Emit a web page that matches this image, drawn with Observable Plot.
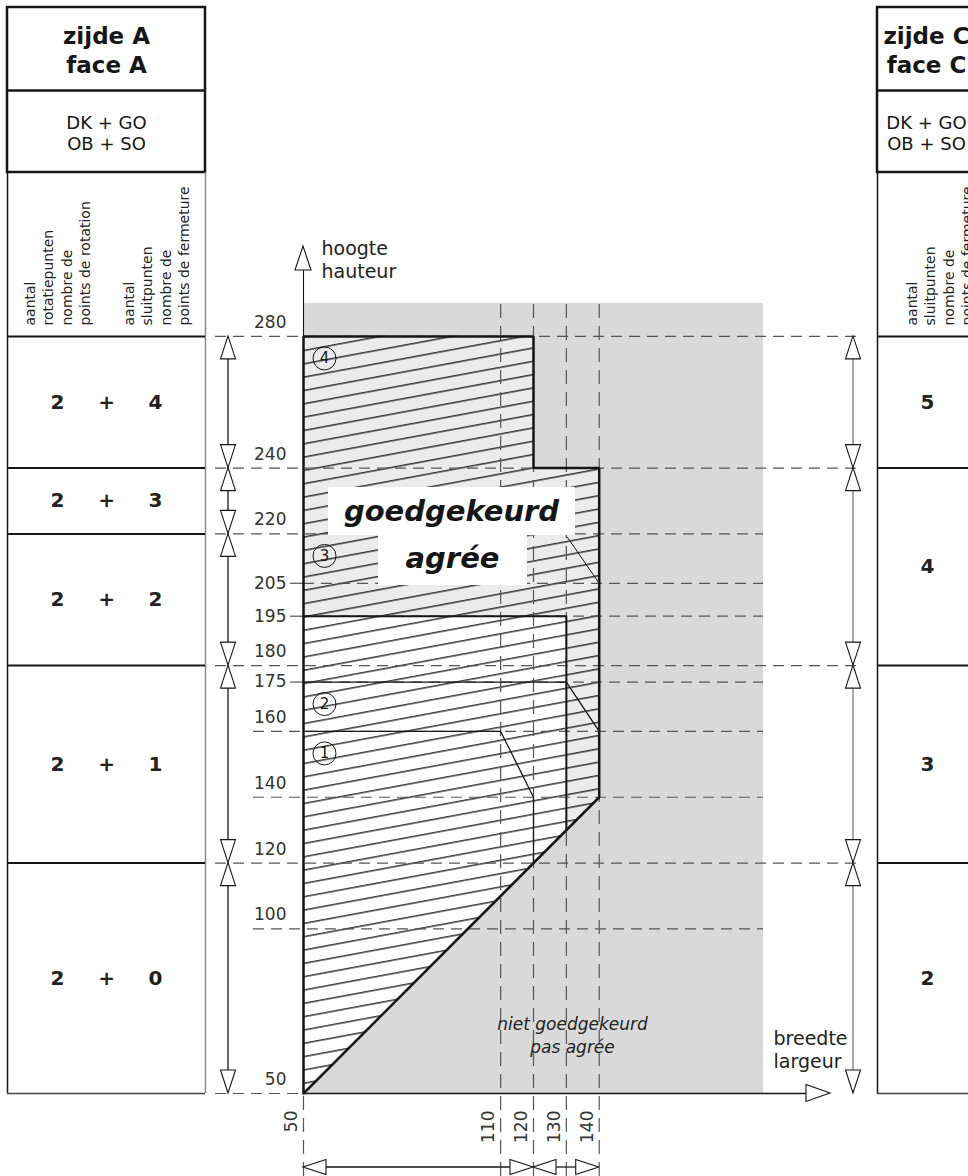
<!DOCTYPE html>
<html><head><meta charset="utf-8">
<script src="https://cdn.jsdelivr.net/npm/d3@7"></script>
<script src="https://cdn.jsdelivr.net/npm/@observablehq/plot@0.6"></script>
<style>
html,body{margin:0;padding:0;background:#fff;overflow:hidden;}
#chart svg{display:block;overflow:hidden;}
</style></head><body><div id="chart"></div>
<script>
// ---------------- data ----------------
const widthTicks = [50, 110, 120, 130, 140];
const heightTicks = [280, 240, 220, 205, 195, 180, 175, 160, 140, 120, 100, 50];
const heightTicksMarked = [205, 195, 175];
const sideAHeights = [280, 240, 220, 180, 120, 50];
const sideARotationPoints = [2, 2, 2, 2, 2];
const sideAClosingPoints = [4, 3, 2, 1, 0];
const sideCHeights = [280, 240, 180, 120, 50];
const sideCClosingPoints = [5, 4, 3, 2];
const widthSpans = [50, 120, 140];
const approvedOutline = [[50,50],[140,140],[140,240],[120,240],[120,280],[50,280]];
const upperZone = [[50,195],[50,280],[120,280],[120,240],[140,240],[140,140],[130,130],[130,195]];
const zone2Edge = [[50,195],[130,195],[130,130]];
const zone2Top = [[50,175],[130,175],[140,160]];
const zone1Edge = [[50,160],[110,160],[120,140],[120,120]];
const labelLeader = [[130.3,219],[140,205]];
const zoneNumbers = ["1","2","3","4"];
const zoneTops = [160,175,220,280];
const widthRange = [50,190];
const heightRange = [50,290];
const sideALabels = ["zijde A\nface A", "DK + GO\nOB + SO"];
const sideCLabels = ["zijde C\nface C", "DK + GO\nOB + SO"];
const rotationHeader = "aantal\nrotatiepunten\nnombre de\npoints de rotation";
const closingHeader = "aantal\nsluitpunten\nnombre de\npoints de fermeture";

// ---------------- layout ----------------
const W = 968, H = 1176, ML = 303, MR = 205, MT = 303, MB = 83;
const KX = (W - ML - MR) / (widthRange[1] - widthRange[0]);
const KY = (H - MT - MB) / (heightRange[1] - heightRange[0]);
const PX = p => widthRange[0] + (p - ML) / KX;   // pixel -> data (x)
const PY = p => heightRange[0] + (H - MB - p) / KY; // pixel -> data (y)
const px = d => d[0], py = d => d[1];
const INK = "#161616", DASH = "#555";

const rowsA = sideAClosingPoints.map((c, i) => ({mid: (sideAHeights[i] + sideAHeights[i+1]) / 2, rot: sideARotationPoints[i], close: c}));
const rowsC = sideCClosingPoints.map((c, i) => ({mid: (sideCHeights[i] + sideCHeights[i+1]) / 2, close: c}));

const bothSides = sideAHeights.filter(h => sideCHeights.includes(h) && h !== heightRange[0]);
const dashRows = heightTicks.map(h => {
  let a, b;
  if (h === heightRange[0]) { a = PX(215); b = widthRange[0]; }
  else if (bothSides.includes(h)) { a = PX(215); b = PX(860); }
  else if (sideAHeights.includes(h)) { a = PX(215); b = widthRange[1]; }
  else if (heightTicksMarked.includes(h)) { a = widthRange[0]; b = widthRange[1]; }
  else { a = PX(253); b = widthRange[1]; }
  return {h, a, b};
});

function openHead(g, ax, ay, dir, L = 23, w = 7.5) {
  let pts;
  if (dir === "up") pts = [[ax,ay],[ax-w,ay+L],[ax+w,ay+L]];
  else if (dir === "down") pts = [[ax,ay],[ax-w,ay-L],[ax+w,ay-L]];
  else if (dir === "left") pts = [[ax,ay],[ax+L,ay-w],[ax+L,ay+w]];
  else pts = [[ax,ay],[ax-L,ay-w],[ax-L,ay+w]];
  g.append("path").attr("d", "M" + pts.join("L") + "Z")
    .attr("fill", "white").attr("stroke", INK).attr("stroke-width", 1.1).attr("stroke-linejoin", "miter");
}

const dimensionMark = (bounds, axis, at, lineColor) => (index, scales) => {
  const g = d3.create("svg:g");
  const L = 23;
  for (let i = 0; i + 1 < bounds.length; i++) {
    if (axis === "y") {
      const a = scales.y(bounds[i]), b = scales.y(bounds[i+1]);
      const top = Math.min(a, b), bot = Math.max(a, b);
      g.append("line").attr("x1", at).attr("x2", at).attr("y1", top + L).attr("y2", bot - L)
        .attr("stroke", lineColor).attr("stroke-width", 1.3);
      openHead(g, at, top, "up"); openHead(g, at, bot, "down");
    } else {
      const a = scales.x(bounds[i]), b = scales.x(bounds[i+1]);
      const l = Math.min(a, b), r = Math.max(a, b);
      g.append("line").attr("y1", at).attr("y2", at).attr("x1", l + L).attr("x2", r - L)
        .attr("stroke", lineColor).attr("stroke-width", 1.3);
      openHead(g, l, at, "left"); openHead(g, r, at, "right");
    }
  }
  return g.node();
};

const hatchDefs = () => {
  const g = d3.create("svg:g");
  const p = g.append("defs").append("pattern").attr("id", "hatch")
    .attr("patternUnits", "userSpaceOnUse").attr("width", 80).attr("height", 13.1)
    .attr("patternTransform", "rotate(-10.5)");
  p.append("line").attr("x1", -2).attr("x2", 82).attr("y1", 6.5).attr("y2", 6.5)
    .attr("stroke", "#000").attr("stroke-width", 1.25);
  return g.node();
};

const axisHeads = (index, scales) => {
  const g = d3.create("svg:g");
  openHead(g, scales.x(widthRange[0]), 246, "up", 24, 8);
  openHead(g, 830, scales.y(heightRange[0]), "right", 24, 8.5);
  return g.node();
};

const tableFrame = (x1p, x2p, bounds) => [
  Plot.rect([0], {x1: PX(x1p), x2: PX(x2p), y1: PY(7), y2: PY(172), fill: "none", stroke: INK, strokeWidth: 2.5}),
  Plot.ruleY([PY(90)], {x1: PX(x1p), x2: PX(x2p), stroke: INK, strokeWidth: 2.5}),
  Plot.ruleX([PX(x1p)], {y1: PY(172), y2: heightRange[0], stroke: INK, strokeWidth: 1.5}),
  Plot.ruleX([PX(x2p)], {y1: PY(172), y2: heightRange[0], stroke: "#8a8a8a", strokeWidth: 1.5}),
  Plot.ruleY(bounds.filter(h => h !== heightRange[0]), {x1: PX(x1p), x2: PX(x2p), stroke: INK, strokeWidth: 2}),
  Plot.ruleY([heightRange[0]], {x1: PX(x1p), x2: PX(x2p), stroke: "#444", strokeWidth: 1.5})
];

const plot = Plot.plot({
  width: W, height: H,
  marginLeft: ML, marginRight: MR, marginTop: MT, marginBottom: MB,
  x: {domain: widthRange, axis: null},
  y: {domain: heightRange, axis: null},
  style: {fontFamily: "DejaVu Sans", background: "white", color: INK, overflow: "hidden"},
  marks: [
    hatchDefs,
    // grey "not approved" field
    Plot.rect([0], {x1: widthRange[0], x2: widthRange[1], y1: heightRange[0], y2: heightRange[1], fill: "#d9d9d9"}),
    // approved area
    Plot.line(approvedOutline, {x: px, y: py, fill: "white", stroke: "none"}),
    Plot.line(upperZone, {x: px, y: py, fill: "#ebebeb", stroke: "none"}),
    Plot.line(approvedOutline, {x: px, y: py, fill: "url(#hatch)", stroke: "none"}),
    // dashed reference lines
    Plot.ruleY(dashRows, {y: "h", x1: "a", x2: "b", stroke: DASH, strokeWidth: 1.2, strokeDasharray: "11,7"}),
    Plot.ruleX(widthTicks.filter(v => v !== widthRange[0]), {y1: PY(1176), y2: heightRange[1], stroke: DASH, strokeWidth: 1.2, strokeDasharray: "14,8"}),
    Plot.ruleX([widthRange[0]], {y1: PY(1176), y2: heightRange[0], stroke: DASH, strokeWidth: 1.2, strokeDasharray: "14,8"}),
    Plot.ruleY(heightTicksMarked, {x1: PX(290), x2: widthRange[0], stroke: DASH, strokeWidth: 1.2}),
    // zone boundaries
    Plot.line(zone1Edge, {x: px, y: py, stroke: INK, strokeWidth: 1.3}),
    Plot.line(zone2Top, {x: px, y: py, stroke: INK, strokeWidth: 1.3}),
    Plot.line(zone2Edge, {x: px, y: py, stroke: INK, strokeWidth: 2}),
    Plot.line(labelLeader, {x: px, y: py, stroke: INK, strokeWidth: 1}),
    Plot.line(approvedOutline.concat([approvedOutline[0]]), {x: px, y: py, stroke: INK, strokeWidth: 2.5, strokeLinejoin: "miter"}),
    // zone numbers
    Plot.dot(zoneNumbers, {x: () => widthRange[0], y: (d, i) => zoneTops[i], dx: 21, dy: 22, r: 11.5, fill: "none", stroke: INK, strokeWidth: 1}),
    Plot.text(zoneNumbers, {x: () => widthRange[0], y: (d, i) => zoneTops[i], text: d => d, dx: 21, dy: 22, fontSize: 15, fill: INK}),
    // approved label
    Plot.rect([0], {x1: PX(328), x2: PX(575), y1: PY(535), y2: PY(487), fill: "white"}),
    Plot.rect([0], {x1: PX(378), x2: PX(527), y1: PY(585), y2: PY(535), fill: "white"}),
    Plot.text(["goedgekeurd"], {x: PX(451), y: PY(511), text: d => d, fontSize: 29, fontWeight: "bold", fontStyle: "italic", fill: INK}),
    Plot.text(["agrée"], {x: PX(452), y: PY(558), text: d => d, fontSize: 29, fontWeight: "bold", fontStyle: "italic", fill: INK}),
    Plot.text(["niet goedgekeurd\npas agrée"], {x: PX(572), y: PY(1034), text: d => d, fontSize: 17, fontStyle: "italic", lineHeight: 1.33, fill: "#222"}),
    // axes
    Plot.ruleX([widthRange[0]], {y1: heightRange[0], y2: PY(268), stroke: INK, strokeWidth: 1.1}),
    Plot.ruleY([heightRange[0]], {x1: widthRange[0], x2: PX(807), stroke: INK, strokeWidth: 1.5}),
    axisHeads,
    Plot.text(["hoogte\nhauteur"], {x: PX(321), y: PY(259), text: d => d, textAnchor: "start", fontSize: 19, lineHeight: 1.2, fill: "#222"}),
    Plot.text(["breedte\nlargeur"], {x: PX(773), y: PY(1049), text: d => d, textAnchor: "start", fontSize: 19, lineHeight: 1.2, fill: "#222"}),
    // tick labels
    Plot.text(heightTicks.filter(h => !heightTicksMarked.includes(h)), {x: PX(286), y: d => d, text: d => String(d), dy: -14, textAnchor: "end", fontSize: 17, fill: "#333"}),
    Plot.text(heightTicksMarked, {x: PX(286), y: d => d, text: d => String(d), textAnchor: "end", fontSize: 17, fill: "#333"}),
    Plot.text(widthTicks, {x: d => d, y: PY(1110), text: d => String(d), dx: -12, rotate: -90, textAnchor: "end", fontSize: 17, fill: "#333"}),
    // dimension arrows
    dimensionMark(sideAHeights, "y", 228, INK),
    dimensionMark(sideCHeights, "y", 853, "#7a7a7a"),
    dimensionMark(widthSpans, "x", 1167, INK),
    // side A table
    ...tableFrame(7, 205, sideAHeights),
    Plot.text([sideALabels[0]], {x: PX(106), y: PY(49), text: d => d, fontSize: 23, fontWeight: "bold", lineHeight: 1.22, fill: INK}),
    Plot.text([sideALabels[1]], {x: PX(106), y: PY(132), text: d => d, fontSize: 18, lineHeight: 1.17, fill: INK}),
    Plot.text([rotationHeader], {x: PX(56), y: PY(325), text: d => d, rotate: -90, textAnchor: "start", fontSize: 14, lineHeight: 1.31, fill: "#222"}),
    Plot.text([closingHeader], {x: PX(155), y: PY(325), text: d => d, rotate: -90, textAnchor: "start", fontSize: 14, lineHeight: 1.31, fill: "#222"}),
    Plot.text(rowsA, {x: PX(57), y: "mid", text: d => String(d.rot), fontSize: 20, fontWeight: "bold", fill: "#222"}),
    Plot.text(rowsA, {x: PX(106), y: "mid", text: () => "+", fontSize: 20, fontWeight: "bold", fill: "#222"}),
    Plot.text(rowsA, {x: PX(155), y: "mid", text: d => String(d.close), fontSize: 20, fontWeight: "bold", fill: "#222"}),
    // side C table
    ...tableFrame(877, 990, sideCHeights),
    Plot.text([sideCLabels[0]], {x: PX(926), y: PY(49), text: d => d, fontSize: 23, fontWeight: "bold", lineHeight: 1.22, fill: INK}),
    Plot.text([sideCLabels[1]], {x: PX(926), y: PY(132), text: d => d, fontSize: 18, lineHeight: 1.17, fill: INK}),
    Plot.text([closingHeader], {x: PX(938), y: PY(325), text: d => d, rotate: -90, textAnchor: "start", fontSize: 14, lineHeight: 1.31, fill: "#222"}),
    Plot.text(rowsC, {x: PX(927), y: "mid", text: d => String(d.close), fontSize: 20, fontWeight: "bold", fill: "#222"})
  ]
});
document.getElementById("chart").append(plot);
</script>
</body></html>
